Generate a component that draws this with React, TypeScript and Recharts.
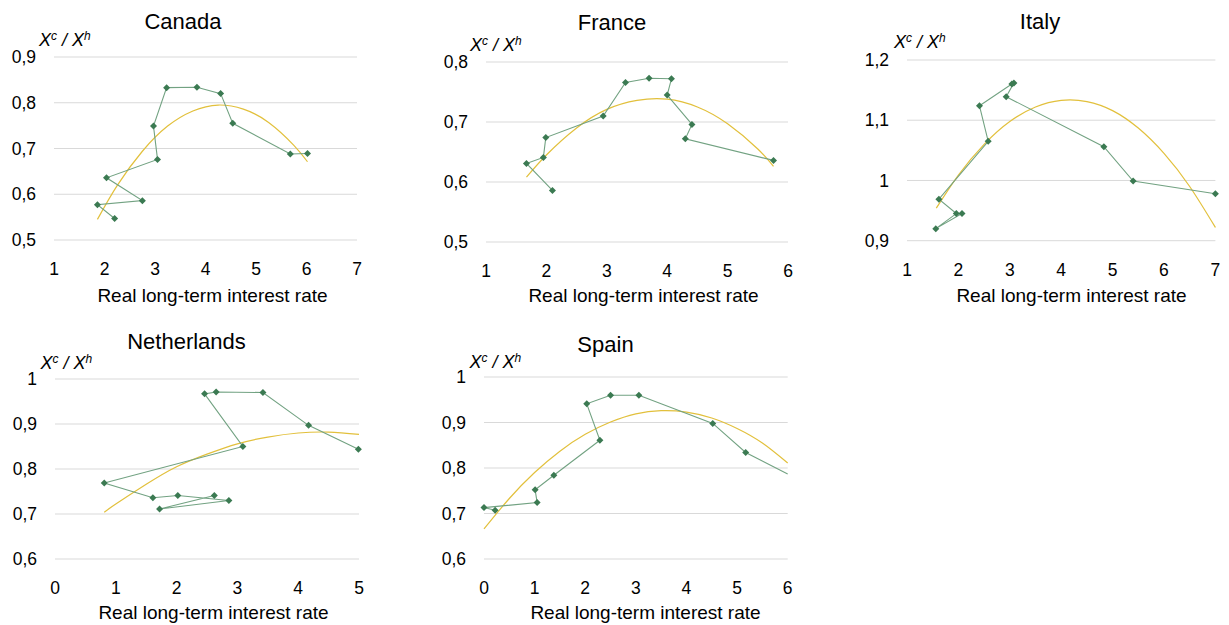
import { ComposedChart, Line, Scatter, XAxis, YAxis, CartesianGrid } from "recharts";

// observed ratios, in the order they are joined
const canadaRate = [2.2, 1.86, 2.75, 2.04, 3.05, 2.97, 3.23, 3.83, 4.3, 4.54, 5.68, 6.02];
const canadaRatio = [0.547, 0.577, 0.586, 0.636, 0.676, 0.749, 0.833, 0.834, 0.82, 0.755, 0.688, 0.689];
const canadaTrendRate = [1.86, 2.25, 2.75, 3.25, 3.75, 4.25, 4.75, 5.25, 5.75, 6.02];
const canadaTrendRatio = [0.545, 0.619, 0.694, 0.749, 0.782, 0.795, 0.786, 0.757, 0.707, 0.671];

const franceRate = [2.1, 1.67, 1.95, 1.99, 2.94, 3.31, 3.7, 4.07, 4.0, 4.41, 4.3, 5.76];
const franceRatio = [0.586, 0.631, 0.641, 0.674, 0.71, 0.766, 0.773, 0.772, 0.745, 0.696, 0.672, 0.636];
const franceTrendRate = [1.67, 2, 2.5, 3, 3.5, 4, 4.5, 5, 5.5, 5.76];
const franceTrendRatio = [0.608, 0.645, 0.69, 0.721, 0.736, 0.738, 0.725, 0.697, 0.655, 0.626];

const italyRate = [2.07, 1.56, 1.96, 1.62, 2.58, 2.41, 3.04, 3.08, 2.93, 4.83, 5.4, 7.0];
const italyRatio = [0.945, 0.92, 0.945, 0.969, 1.065, 1.124, 1.16, 1.162, 1.139, 1.056, 0.999, 0.978];
const italyTrendRate = [1.57, 2, 2.5, 3, 3.5, 4, 4.5, 5, 5.5, 6, 6.5, 7];
const italyTrendRatio = [0.954, 1.009, 1.06, 1.098, 1.122, 1.133, 1.131, 1.116, 1.087, 1.045, 0.99, 0.922];

const netherlandsRate = [4.99, 4.17, 3.42, 2.65, 2.46, 3.09, 0.81, 1.61, 2.02, 2.86, 1.72, 2.62];
const netherlandsRatio = [0.844, 0.897, 0.97, 0.971, 0.967, 0.85, 0.769, 0.736, 0.741, 0.73, 0.711, 0.741];
const netherlandsTrendRate = [0.81, 1, 1.5, 2, 2.5, 3, 3.5, 4, 4.5, 5];
const netherlandsTrendRatio = [0.704, 0.722, 0.766, 0.805, 0.833, 0.856, 0.871, 0.88, 0.882, 0.877];

// last Spain value is where the line leaves the plot (no marker)
const spainRate = [0.22, 0.0, 1.05, 1.01, 1.38, 2.29, 2.03, 2.5, 3.06, 4.52, 5.17, 6.0];
const spainRatio = [0.707, 0.713, 0.724, 0.752, 0.784, 0.861, 0.941, 0.96, 0.96, 0.898, 0.834, 0.787];
const spainTrendRate = [0, 0.5, 1, 1.5, 2, 2.5, 3, 3.5, 4, 4.5, 5, 5.5, 6];
const spainTrendRatio = [0.666, 0.733, 0.79, 0.837, 0.874, 0.901, 0.919, 0.926, 0.923, 0.91, 0.887, 0.855, 0.811];

const ticks1to7 = [1, 2, 3, 4, 5, 6, 7];
const ticks1to6 = [1, 2, 3, 4, 5, 6];
const ticks0to5 = [0, 1, 2, 3, 4, 5];
const ticks0to6 = [0, 1, 2, 3, 4, 5, 6];
const canadaTicksY = [0.5, 0.6, 0.7, 0.8, 0.9];
const franceTicksY = [0.5, 0.6, 0.7, 0.8];
const italyTicksY = [0.9, 1, 1.1, 1.2];
const lowerTicksY = [0.6, 0.7, 0.8, 0.9, 1];

const FONT = '"Liberation Sans", Arial, Helvetica, sans-serif';
const GREEN_DOT = "#3b7a52";
const GREEN_LINE = "#72a282";
const YELLOW = "#e2c03c";
const GRID = "#d9d9d9";

type Pt = { x: number; y: number; hidden?: boolean };

const zip = (xs: number[], ys: number[]): Pt[] => xs.map((x, i) => ({ x, y: ys[i] }));

interface Panel {
  name: string;
  obs: Pt[];
  trend: Pt[];
  xTicks: number[];
  yTicks: number[];
  // plot box in page px
  left: number;
  right: number;
  top: number;
  bottom: number;
  titleX: number;
  titleY: number;
  yLabX: number;
  yLabY: number;
  xLabX: number;
  xLabY: number;
}

const spainObs = zip(spainRate, spainRatio);
spainObs[spainObs.length - 1].hidden = true;

const panels: Panel[] = [
  {
    name: "Canada", obs: zip(canadaRate, canadaRatio), trend: zip(canadaTrendRate, canadaTrendRatio),
    xTicks: ticks1to7, yTicks: canadaTicksY,
    left: 54, right: 357, top: 57, bottom: 240,
    titleX: 183, titleY: 29, yLabX: 39, yLabY: 46, xLabX: 212.5, xLabY: 302,
  },
  {
    name: "France", obs: zip(franceRate, franceRatio), trend: zip(franceTrendRate, franceTrendRatio),
    xTicks: ticks1to6, yTicks: franceTicksY,
    left: 485.7, right: 787.7, top: 61.7, bottom: 241.7,
    titleX: 612, titleY: 30, yLabX: 470, yLabY: 50.5, xLabX: 643.5, xLabY: 302,
  },
  {
    name: "Italy", obs: zip(italyRate, italyRatio), trend: zip(italyTrendRate, italyTrendRatio),
    xTicks: ticks1to7, yTicks: italyTicksY,
    left: 907.3, right: 1215.7, top: 60, bottom: 240.7,
    titleX: 1040, titleY: 28.5, yLabX: 894, yLabY: 47.5, xLabX: 1071.5, xLabY: 302,
  },
  {
    name: "Netherlands", obs: zip(netherlandsRate, netherlandsRatio), trend: zip(netherlandsTrendRate, netherlandsTrendRatio),
    xTicks: ticks0to5, yTicks: lowerTicksY,
    left: 55, right: 359, top: 379.3, bottom: 559.3,
    titleX: 186.5, titleY: 348.5, yLabX: 40.5, yLabY: 368.5, xLabX: 213.5, xLabY: 619,
  },
  {
    name: "Spain", obs: spainObs, trend: zip(spainTrendRate, spainTrendRatio),
    xTicks: ticks0to6, yTicks: lowerTicksY,
    left: 484, right: 787.7, top: 377.3, bottom: 559.3,
    titleX: 605.5, titleY: 351.5, yLabX: 469.5, yLabY: 367.5, xLabX: 645.5, xLabY: 619,
  },
];

const fmt = (v: number) => String(v).replace(".", ",");

function Diamond(props: any) {
  const { cx, cy, payload } = props;
  if (payload && payload.hidden) return <g />;
  const r = 3.5;
  return (
    <path
      d={`M${cx},${cy - r}L${cx + r},${cy}L${cx},${cy + r}L${cx - r},${cy}Z`}
      fill={GREEN_DOT}
    />
  );
}

const AXIS_W = 60;
const AXIS_H = 40;
const M_TOP = 10;
const M_RIGHT = 10;

function CountryChart({ p }: { p: Panel }) {
  const w = p.right - p.left + AXIS_W + M_RIGHT;
  const h = p.bottom - p.top + M_TOP + AXIS_H;
  const tickStyle = { fontSize: 17.5, fill: "#000", fontFamily: FONT };
  return (
    <div style={{ position: "absolute", left: p.left - AXIS_W, top: p.top - M_TOP }}>
      <ComposedChart width={w} height={h} margin={{ top: M_TOP, right: M_RIGHT, bottom: 0, left: 0 }}>
        <CartesianGrid vertical={false} stroke={GRID} strokeWidth={1} />
        <XAxis
          type="number"
          dataKey="x"
          domain={[p.xTicks[0], p.xTicks[p.xTicks.length - 1]]}
          ticks={p.xTicks}
          interval={0}
          axisLine={false}
          tickLine={false}
          height={AXIS_H}
          tickMargin={17}
          tick={tickStyle}
        />
        <YAxis
          type="number"
          dataKey="y"
          domain={[p.yTicks[0], p.yTicks[p.yTicks.length - 1]]}
          ticks={p.yTicks}
          interval={0}
          axisLine={false}
          tickLine={false}
          width={AXIS_W}
          tickMargin={12}
          tick={tickStyle}
          tickFormatter={fmt}
        />
        <Line
          data={p.trend}
          dataKey="y"
          type="natural"
          stroke={YELLOW}
          strokeWidth={1.2}
          dot={false}
          activeDot={false}
          isAnimationActive={false}
        />
        <Scatter
          data={p.obs}
          dataKey="y"
          line={{ stroke: GREEN_LINE, strokeWidth: 1.1 }}
          lineType="joint"
          shape={<Diamond />}
          fill={GREEN_DOT}
          isAnimationActive={false}
        />
      </ComposedChart>
    </div>
  );
}

function Labels() {
  return (
    <svg
      width={1229}
      height={625}
      style={{ position: "absolute", left: 0, top: 0, pointerEvents: "none" }}
      fontFamily={FONT}
    >
      {panels.map((p) => (
        <g key={p.name}>
          <text x={p.titleX} y={p.titleY} fontSize={22} textAnchor="middle" fill="#000">
            {p.name}
          </text>
          <text x={p.yLabX} y={p.yLabY} fontSize={18} fontStyle="italic" fill="#000">
            <tspan>X</tspan>
            <tspan fontSize={12} dy={-6}>c</tspan>
            <tspan dy={6}> / X</tspan>
            <tspan fontSize={12} dy={-6}>h</tspan>
          </text>
          <text x={p.xLabX} y={p.xLabY} fontSize={19} textAnchor="middle" fill="#000">
            Real long-term interest rate
          </text>
        </g>
      ))}
    </svg>
  );
}

export default function App() {
  return (
    <div style={{ position: "absolute", left: 0, top: 0, width: 1229, height: 625, background: "#fff" }}>
      {panels.map((p) => (
        <CountryChart key={p.name} p={p} />
      ))}
      <Labels />
    </div>
  );
}
